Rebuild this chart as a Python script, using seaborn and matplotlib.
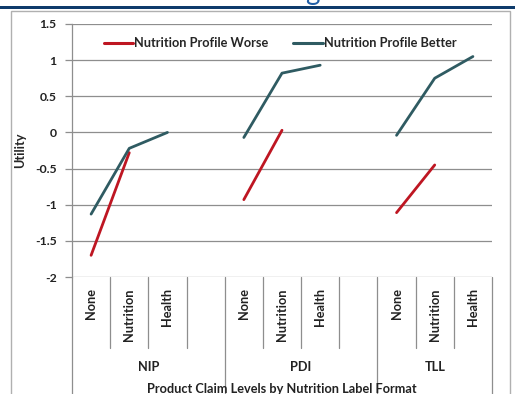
import pandas as pd
import matplotlib.pyplot as plt
import seaborn as sns
from matplotlib.patches import Rectangle
from matplotlib.lines import Line2D

# === Data ===
formats = ["NIP", "PDI", "TLL"]
claims = ["None", "Nutrition", "Health"]

nip_worse = [-1.70, -0.28]
pdi_worse = [-0.93, 0.03]
tll_worse = [-1.11, -0.45]

nip_better = [-1.13, -0.22, 0.00]
pdi_better = [-0.07, 0.82, 0.93]
tll_better = [-0.04, 0.75, 1.05]

worse_label = "Nutrition Profile Worse"
better_label = "Nutrition Profile Better"

yticks = [-2, -1.5, -1, -0.5, 0, 0.5, 1, 1.5]
ytick_labels = ["-2", "-1.5", "-1", "-0.5", "0", "0.5", "1", "1.5"]

rows = []
for fi, (fmt, w, b) in enumerate(zip(formats, [nip_worse, pdi_worse, tll_worse],
                                     [nip_better, pdi_better, tll_better])):
    for ci, v in enumerate(w):
        rows.append({"format": fmt, "claim": claims[ci], "slot": fi * 4 + ci,
                     "profile": worse_label, "utility": v})
    for ci, v in enumerate(b):
        rows.append({"format": fmt, "claim": claims[ci], "slot": fi * 4 + ci,
                     "profile": better_label, "utility": v})
df = pd.DataFrame(rows)

# === Figure ===
sns.set_style("white")
plt.rcParams['font.family'] = ['Lato', 'DejaVu Sans']
W, H = 515, 394
fig = plt.figure(figsize=(W / 100, H / 100), dpi=100)
ax = fig.add_axes([72 / W, 1 - 277 / H, 420 / W, 253 / H])

red = "#BE1622"
teal = "#2F5B62"
grid_c = "#8E8E8E"
txt_c = "#222222"
fs = 9.2

sns.lineplot(data=df, x="slot", y="utility", hue="profile", units="format",
             estimator=None, hue_order=[worse_label, better_label],
             palette=[red, teal], linewidth=2.0, ax=ax, legend=False)

ax.set_xlim(-0.5, 10.5)
ax.set_ylim(-2, 1.5)
ax.set_yticks(yticks)
ax.set_yticklabels(ytick_labels, fontsize=8.8, fontweight='bold', color=txt_c)
for v in yticks:
    ax.axhline(v, color=grid_c, lw=0.9, zorder=0)
for s in ["top", "right", "bottom"]:
    ax.spines[s].set_visible(False)
ax.spines["left"].set_color(grid_c)
ax.spines["left"].set_linewidth(0.9)
ax.tick_params(axis='y', length=5, width=0.9, color=grid_c, pad=6, left=True)

# category tick labels
slots, labels = [], []
for fi in range(len(formats)):
    for ci, c in enumerate(claims):
        slots.append(fi * 4 + ci)
        labels.append(c)
ax.set_xticks(slots)
ax.set_xticklabels(labels, rotation=90, fontsize=fs, fontweight='bold',
                   color=txt_c, va='top')
ax.tick_params(axis='x', length=0, pad=8)
ax.set_xlabel("")
ax.set_ylabel("Utility", fontsize=fs, fontweight='bold', va='center')
ax.yaxis.set_label_coords(-0.124, 0.5)

# separators under the axis
tr = ax.get_xaxis_transform()
for x in [0.5, 1.5, 2.5, 4.5, 5.5, 6.5, 8.5, 9.5]:
    ax.add_line(Line2D([x, x], [0, -0.28], transform=tr, color=grid_c,
                       lw=0.9, clip_on=False))
for x in [-0.5, 3.5, 7.5, 10.5]:
    ax.add_line(Line2D([x, x], [0, -0.47], transform=tr, color=grid_c,
                       lw=0.9, clip_on=False))
for fi, fmt in enumerate(formats):
    n = 4 if fi < 2 else 3
    xc = fi * 4 + (n - 1) / 2
    ax.text(xc, -0.355, fmt, transform=tr, ha='center', va='center',
            fontsize=fs, fontweight='bold', color=txt_c)
ax.text(0.5, -0.418, "Product Claim Levels by Nutrition Label Format",
        transform=ax.transAxes, ha='center', va='top', fontsize=fs,
        fontweight='bold', color=txt_c)

# legend
handles = [Line2D([], [], color=red, lw=2.2), Line2D([], [], color=teal, lw=2.2)]
ax.legend(handles, [worse_label, better_label], loc='center',
          bbox_to_anchor=(0.495, 0.925), ncol=2, frameon=False,
          prop={'weight': 'bold', 'size': fs},
          handlelength=2.3, handletextpad=0.05, columnspacing=2.0)

# slide decorations: outer frame and title band
fig.add_artist(Rectangle((11 / W, -0.05), 499 / W, 1.05 - 11 / H,
                         transform=fig.transFigure, fill=False,
                         edgecolor="#B0B0B0", lw=1.0))
fig.add_artist(Rectangle((0, 1 - 9 / H), 1, 3 / H, transform=fig.transFigure,
                         color="#0E3B6B", lw=0))
fig.text(312 / W, 1.0, "g", fontsize=20, color="#1F5FA8", ha='center',
         va='baseline')

fig.savefig("out.png", dpi=100)
